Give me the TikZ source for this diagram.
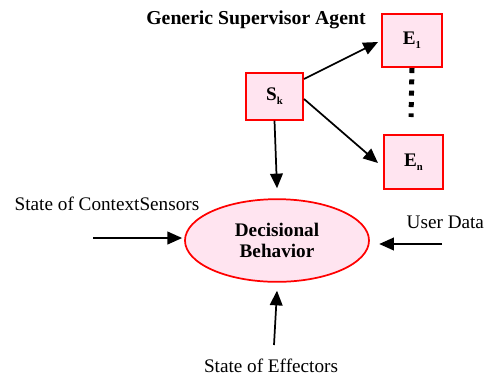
\documentclass[tikz,border=0pt]{standalone}
\usepackage{fontspec}
\setmainfont{Liberation Serif}
\usetikzlibrary{arrows.meta, shapes.geometric}
\definecolor{boxpink}{RGB}{255,228,240}
\newcommand{\lowidx}[1]{\raisebox{-0.45ex}{\footnotesize\textbf{#1}}}

\begin{document}
\begin{tikzpicture}[x=0.75pt, y=-0.75pt,
    font=\fontsize{14.4}{16}\selectfont,
    agentbox/.style={draw=red, line width=1.3pt, fill=boxpink, inner sep=0pt,
      minimum width=43pt, minimum height=40pt, font=\fontsize{14.4}{16}\selectfont\bfseries},
    decision/.style={ellipse, draw=red, line width=1.3pt, fill=boxpink, inner sep=0pt,
      minimum width=138pt, minimum height=62pt, align=center,
      font=\fontsize{14.4}{16}\selectfont\bfseries},
    flow/.style={-{Triangle[length=11pt, width=9.5pt]}, line width=1.3pt}]
  \useasboundingbox (0,0) rectangle (485,376);

  \node[font=\fontsize{14.8}{17}\selectfont\bfseries] (title) at (256,20) {Generic Supervisor Agent};
  \node[agentbox, minimum width=43pt, minimum height=35pt] (sk) at (274.5,96.5) {S\lowidx{k}};
  \node[agentbox, minimum width=45pt] (e1) at (412,40.5) {E\lowidx{1}};
  \node[agentbox, minimum width=44pt] (en) at (413.5,162) {E\lowidx{n}};
  \node[decision] (dec) at (277,240.5) {Decisional\\Behavior};

  \node[anchor=west] (ctx) at (10,204) {State of ContextSensors};
  \node[anchor=west] (user) at (402,222) {User Data};
  \node (eff) at (271,366) {State of Effectors};

  \coordinate (ctxin) at (93,238);
  \coordinate (userin) at (442,244);
  \coordinate (effin) at (274,345);

  \path[flow]
    (sk.east |- 0,79) edge (378,42)
    (sk.east |- 0,99) edge (378,163)
    (sk.south) edge ([yshift=7.5pt]dec.north)
    (ctxin) edge ([xshift=-1.5pt]dec.west |- ctxin)
    (userin) edge ([xshift=7pt]dec.east |- userin)
    (effin) edge ([yshift=-6pt]dec.south);

  % dots between the two effectors
  \draw[line width=3.75pt, dash pattern=on 3.75pt off 4.75pt] (e1.south) -- (411,117);
\end{tikzpicture}
\end{document}
